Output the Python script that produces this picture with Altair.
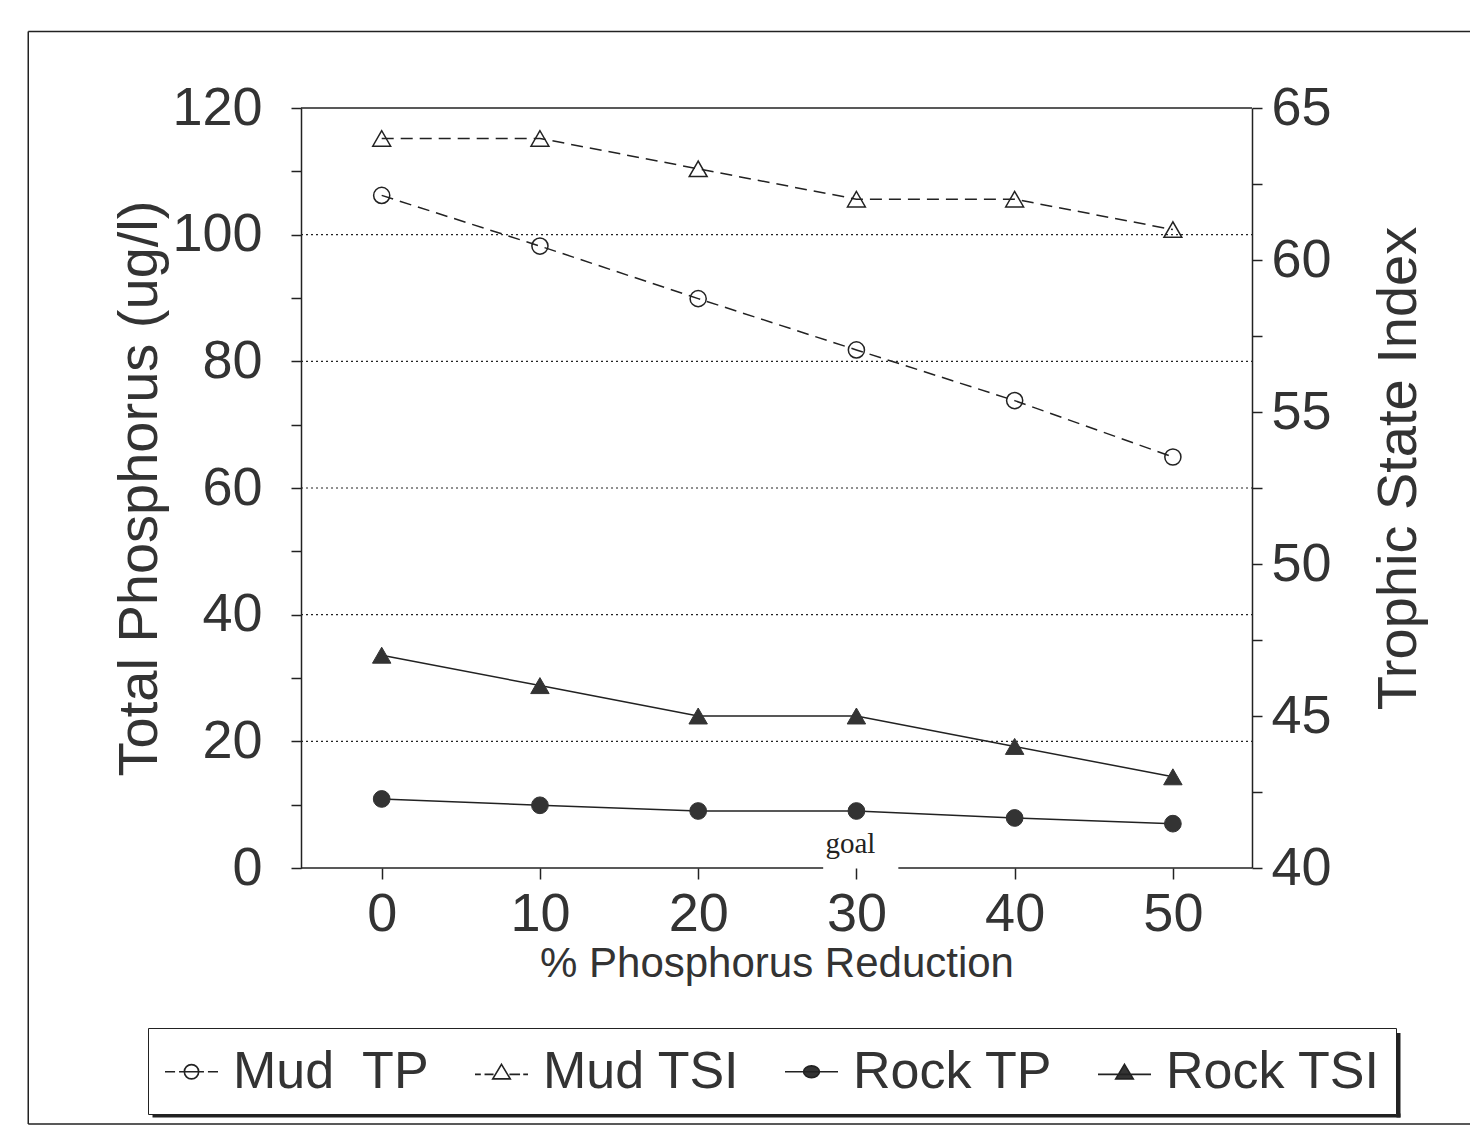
import altair as alt
import pandas as pd

# ---- data ----
reduction = [0, 10, 20, 30, 40, 50]
mud_tp = [106.2, 98.2, 89.9, 81.8, 73.8, 64.9]
rock_tp = [10.9, 9.9, 9.0, 9.0, 7.9, 7.0]
mud_tsi = [64.0, 64.0, 63.0, 62.0, 62.0, 61.0]
rock_tsi = [47.0, 46.0, 45.0, 45.0, 44.0, 43.0]

series_names = ["Mud\u00a0 TP", "Mud TSI", "Rock TP", "Rock TSI"]
grid_values = [20, 40, 60, 80, 100]
left_ticks = list(range(0, 121, 10))
right_ticks = [40 + 2.5 * i for i in range(11)]
x_ticks = [0, 10, 20, 30, 40, 50]
x_domain = [-5.1, 55]
tp_domain = [0, 120]
tsi_domain = [40, 65]
goal_x = [30]
axis_gap = [27.9, 32.65]

FONT = "Liberation Sans"
INK = "#333333"
LINE = "#222222"

W, H = 951, 760

tp_df = pd.DataFrame(
    {"reduction": reduction * 2,
     "value": mud_tp + rock_tp,
     "series": [series_names[0]] * 6 + [series_names[2]] * 6}
)
tsi_df = pd.DataFrame(
    {"reduction": reduction * 2,
     "value": mud_tsi + rock_tsi,
     "series": [series_names[1]] * 6 + [series_names[3]] * 6}
)
grid_df = pd.DataFrame({"value": grid_values, "x0": [x_domain[0]] * 5, "x1": [x_domain[1]] * 5})
top_df = pd.DataFrame({"value": [tp_domain[1]], "x0": [x_domain[0]], "x1": [x_domain[1]]})
bottom_df = pd.DataFrame({"value": [0, 0], "x0": [x_domain[0], axis_gap[1]], "x1": [axis_gap[0], x_domain[1]]})
goal_df = pd.DataFrame({"x": goal_x, "value": [0], "label": ["goal"]})
# legend-only layer: points placed outside the y domain and clipped away
legend_df = pd.DataFrame({"reduction": [0] * 4, "value": [-100] * 4, "series": series_names})

xscale = alt.Scale(domain=x_domain, nice=False, zero=False)
xaxis = alt.Axis(
    values=x_ticks, title="% Phosphorus Reduction", domain=False, grid=False,
    tickSize=11, tickWidth=1.5, tickColor=LINE,
    labelFontSize=54, labelFont=FONT, labelColor=INK, labelPadding=8,
    titleFontSize=42, titleFont=FONT, titleColor=INK, titleFontWeight="normal", titlePadding=2,
)
ylscale = alt.Scale(domain=tp_domain, nice=False, zero=False)
ylaxis = alt.Axis(
    values=left_ticks, labelExpr="datum.value % 20 == 0 ? datum.label : ''",
    title="Total Phosphorus (ug/l)", grid=False,
    domainColor=LINE, domainWidth=1.5, tickSize=10, tickWidth=1.5, tickColor=LINE,
    labelFontSize=54, labelFont=FONT, labelColor=INK, labelPadding=29,
    titleFontSize=56, titleFont=FONT, titleColor=INK, titleFontWeight="normal", titlePadding=3,
)
yrscale = alt.Scale(domain=tsi_domain, nice=False, zero=False)
yraxis = alt.Axis(
    values=right_ticks, labelExpr="datum.value % 5 == 0 ? datum.label : ''",
    title="Trophic State Index", orient="right", grid=False,
    domainColor=LINE, domainWidth=1.5, tickSize=10, tickWidth=1.5, tickColor=LINE,
    labelFontSize=54, labelFont=FONT, labelColor=INK, labelPadding=9,
    titleFontSize=56, titleFont=FONT, titleColor=INK, titleFontWeight="normal",
    titleAngle=270, titleBaseline="top", titlePadding=40, titleY=360,
)

def X(field):
    return alt.X(f"{field}:Q", scale=xscale, axis=xaxis)

def YL(field="value"):
    return alt.Y(f"{field}:Q", scale=ylscale, axis=ylaxis)

def YR(field="value"):
    return alt.Y(f"{field}:Q", scale=yrscale, axis=yraxis)

grid = alt.Chart(grid_df).mark_rule(color=LINE, strokeWidth=1.2, strokeDash=[2, 3]).encode(
    x=X("x0"), x2="x1", y=YL())
top_line = alt.Chart(top_df).mark_rule(color=LINE, strokeWidth=1.5).encode(
    x=X("x0"), x2="x1", y=YL())
bottom_line = alt.Chart(bottom_df).mark_rule(color=LINE, strokeWidth=1.5).encode(
    x=X("x0"), x2="x1", y=YL())
goal = alt.Chart(goal_df).mark_text(
    font="Liberation Serif", fontSize=29, color=LINE, baseline="alphabetic", dy=-15, dx=-6
).encode(x=X("x"), y=YL(), text="label:N")

def series_layers(df, name, ycode, shape, filled, dash, size):
    base = alt.Chart(df).transform_filter(alt.datum.series == name)
    line_kw = dict(color=LINE, strokeWidth=1.5)
    if dash:
        line_kw["strokeDash"] = dash
    line = base.mark_line(**line_kw).encode(x=X("reduction"), y=ycode())
    if filled:
        pt = base.mark_point(shape=shape, filled=True, fill=INK, stroke=INK, strokeWidth=1,
                             size=size, opacity=1)
    else:
        pt = base.mark_point(shape=shape, filled=False, stroke=LINE, strokeWidth=1.5,
                             size=size, opacity=1)
    pt = pt.encode(x=X("reduction"), y=ycode())
    return [line, pt]

paths = [
    "M-1,0L-0.62,0M-0.47,0L0.47,0M0.62,0L1,0"
    "M0.27,0A0.27,0.27,0,1,1,-0.27,0A0.27,0.27,0,1,1,0.27,0Z",
    "M-1,0.1L-0.78,0.1M-0.64,0.1L-0.3,0.1M0.3,0.1L0.7,0.1M0.82,0.1L1,0.1"
    "M0,-0.28L0.33,0.27L-0.33,0.27Z",
    "M-1,0L1,0M0.3,0A0.3,0.22,0,1,1,-0.3,0A0.3,0.22,0,1,1,0.3,0Z",
    "M-1,0.1L1,0.1M0,-0.28L0.33,0.27L-0.33,0.27Z",
]
fills = ["transparent", "transparent", INK, INK]
strokes = [LINE] * 4
leg = alt.Legend(
    title=None, orient="none", legendX=-153, legendY=920, direction="horizontal", columns=4,
    strokeColor=LINE, fillColor="white", padding=16,
    labelFontSize=52, labelFont=FONT, labelColor=INK, labelLimit=0, labelOffset=14,
    columnPadding=41, symbolSize=2809, symbolStrokeWidth=1.6,
)
legend_layer = alt.Chart(legend_df).mark_point(clip=True, strokeWidth=1.6, opacity=1).encode(
    x=X("reduction"), y=YL(),
    shape=alt.Shape("series:N", scale=alt.Scale(domain=series_names, range=paths), legend=leg),
    fill=alt.Fill("series:N", scale=alt.Scale(domain=series_names, range=fills), legend=leg),
    stroke=alt.Stroke("series:N", scale=alt.Scale(domain=series_names, range=strokes), legend=leg),
)

# decorations: figure frame and the legend box shadow
deco = alt.Chart(top_df)
frame_top = deco.mark_rule(color=LINE, strokeWidth=1.5).encode(
    x=alt.value(-272.75), x2=alt.value(1169), y=alt.value(-76.5))
frame_left = deco.mark_rule(color=LINE, strokeWidth=1.5).encode(
    x=alt.value(-272.75), y=alt.value(-76.5), y2=alt.value(1016))
frame_bottom = deco.mark_rule(color=LINE, strokeWidth=1.5).encode(
    x=alt.value(-272.75), x2=alt.value(1169), y=alt.value(1016))
shadow_bottom = deco.mark_rule(color=LINE, strokeWidth=4).encode(
    x=alt.value(-148.5), x2=alt.value(1099.5), y=alt.value(1007.5))
shadow_right = deco.mark_rule(color=LINE, strokeWidth=4).encode(
    x=alt.value(1097.5), y=alt.value(925), y2=alt.value(1009.5))

left_layers = [grid, top_line, bottom_line, goal]
left_layers += series_layers(tp_df, series_names[0], YL, "circle", False, [12, 7], 260)
left_layers += series_layers(tp_df, series_names[2], YL, "circle", True, None, 280)
left_layers += [legend_layer, frame_top, frame_left, frame_bottom, shadow_bottom, shadow_right]
left = alt.layer(*left_layers)

right_layers = []
right_layers += series_layers(tsi_df, series_names[1], YR, "triangle-up", False, [12, 7], 320)
right_layers += series_layers(tsi_df, series_names[3], YR, "triangle-up", True, None, 340)
right = alt.layer(*right_layers)

chart = alt.layer(left, right).resolve_scale(y="independent").properties(
    width=W, height=H, background="white",
    padding={"left": 19, "top": 22, "right": 0, "bottom": 0},
).configure_view(stroke=None)

chart.save("out.html", embed_options={"renderer": "svg", "actions": False})
